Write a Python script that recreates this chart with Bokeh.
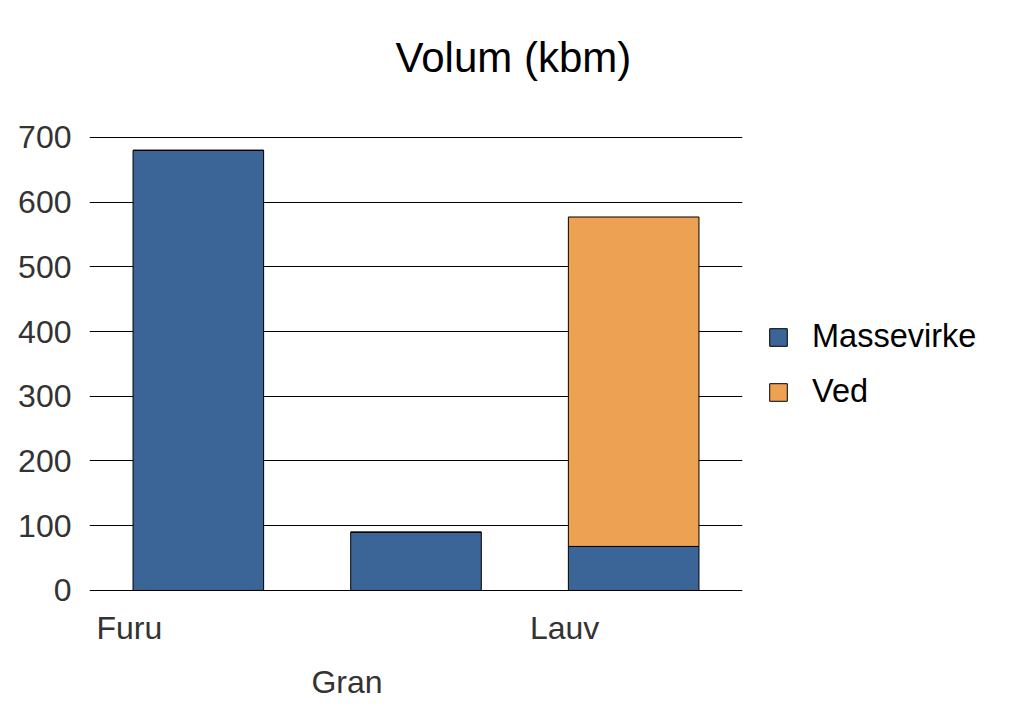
from bokeh.plotting import figure
from bokeh.models import (Range1d, FactorRange, FixedTicker, Legend, LegendItem,
                          ColumnDataSource, Title)
from bokeh.core.properties import value
from bokeh.embed import file_html
from bokeh.resources import INLINE

categories = ["Furu", "Gran", "Lauv"]
series = ["Massevirke", "Ved"]
massevirke = [680, 90, 68]
ved = [0, 0, 509]
y_ticks = [0, 100, 200, 300, 400, 500, 600, 700]

colors = ["#3a6596", "#eda253"]
FONT = "Liberation Sans"

p = figure(x_range=FactorRange(*categories, range_padding=0.0),
           y_range=Range1d(-185.5, 757),
           frame_width=653, frame_height=610,
           min_border_left=89, min_border_right=282,
           min_border_top=100, min_border_bottom=9,
           output_backend="svg", toolbar_location=None,
           outline_line_color=None)

src = ColumnDataSource(dict(cat=categories, Massevirke=massevirke, Ved=ved))
rs = p.vbar_stack(series, x="cat", width=0.6, source=src, color=colors,
                  line_color="black", line_width=1)

# category labels, staggered in two rows
rows = [i % 2 for i in range(len(categories))]
lab = ColumnDataSource(dict(cat=categories, y=[0] * len(categories),
                            yo=[38 + 54 * r for r in rows]))
p.text(x="cat", y="y", text="cat", source=lab, x_offset=-69, y_offset="yo",
       text_align="center", text_baseline="middle",
       text_font=value(FONT), text_font_size="32px", text_color="#333333")

p.xaxis.visible = False
p.xgrid.grid_line_color = None
p.ygrid.grid_line_color = "black"
p.ygrid.grid_line_width = 1
p.yaxis.ticker = FixedTicker(ticks=y_ticks)
p.yaxis.axis_line_color = None
p.yaxis.major_tick_line_color = None
p.yaxis.minor_tick_line_color = None
p.yaxis.major_label_text_font = FONT
p.yaxis.major_label_text_font_size = "32px"
p.yaxis.major_label_text_color = "#333333"
p.yaxis.major_label_standoff = 12

p.add_layout(Title(text="Volum (kbm)", text_font=FONT, text_font_size="42px",
                   text_font_style="normal", text_color="black",
                   align="left", offset=306, standoff=40), "above")

legend = Legend(items=[LegendItem(label=s, renderers=[r]) for s, r in zip(series, rs)],
                location=(25, 300), label_text_font=FONT, label_text_font_size="32.5px",
                label_text_color="black", glyph_width=22, glyph_height=22,
                spacing=18, border_line_color=None, background_fill_alpha=0,
                label_standoff=23)
p.add_layout(legend, "right")

open("out.html", "w").write(file_html(p, INLINE))
